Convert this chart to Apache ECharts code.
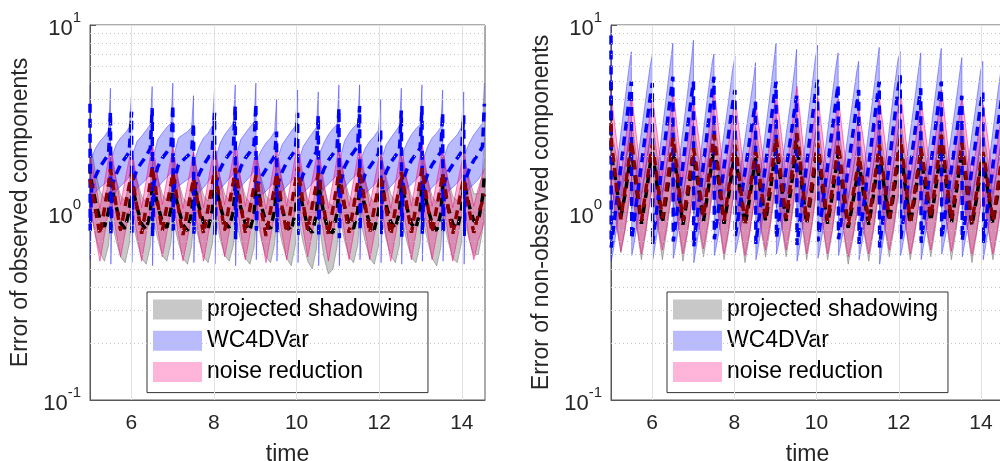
<!DOCTYPE html>
<html>
<head>
<meta charset="utf-8">
<style>
  html, body { margin: 0; padding: 0; background: #fff; }
  #chart { width: 1000px; height: 461px; }
</style>
<script src="https://cdn.jsdelivr.net/npm/echarts@6/dist/echarts.min.js"></script>
</head>
<body>
<div id="chart"></div>
<script>
// Sample times: initial point, then 7 samples per assimilation window
const time = [5.0,
  5.005,5.04,5.13,5.24,5.35,5.45,5.495,
  5.505,5.54,5.63,5.74,5.85,5.95,6.005,
  6.015,6.05,6.14,6.25,6.36,6.46,6.505,
  6.515,6.55,6.64,6.75,6.86,6.96,7.005,
  7.015,7.05,7.14,7.25,7.36,7.46,7.505,
  7.515,7.55,7.64,7.75,7.86,7.96,8.015,
  8.025,8.06,8.15,8.26,8.37,8.47,8.515,
  8.525,8.56,8.65,8.76,8.87,8.97,9.015,
  9.025,9.06,9.15,9.26,9.37,9.47,9.515,
  9.525,9.56,9.65,9.76,9.87,9.97,10.025,
  10.035,10.07,10.16,10.27,10.38,10.48,10.525,
  10.535,10.57,10.66,10.77,10.88,10.98,11.025,
  11.035,11.07,11.16,11.27,11.38,11.48,11.525,
  11.535,11.57,11.66,11.77,11.88,11.98,12.035,
  12.045,12.08,12.17,12.28,12.39,12.49,12.535,
  12.545,12.58,12.67,12.78,12.89,12.99,13.035,
  13.045,13.08,13.17,13.28,13.39,13.49,13.535,
  13.545,13.58,13.67,13.78,13.89,13.99,14.045,
  14.055,14.09,14.18,14.29,14.40,14.50,14.545];

// ---- Observed components ----
// projected shadowing: lower band, mean, upper band
const obsPsLo = [1.1,
  1.05,0.96,0.76,0.61,0.55,0.67,0.91, 0.96,0.87,0.71,0.58,0.54,0.68,0.92,
  0.94,0.86,0.7,0.57,0.53,0.66,0.9, 0.97,0.88,0.72,0.59,0.55,0.69,0.94,
  0.92,0.84,0.69,0.57,0.53,0.66,0.89, 0.95,0.86,0.71,0.58,0.54,0.68,0.92,
  0.98,0.88,0.72,0.59,0.55,0.67,0.91, 0.94,0.86,0.7,0.57,0.53,0.65,0.88,
  0.96,0.88,0.71,0.58,0.54,0.68,0.93, 0.93,0.85,0.69,0.57,0.52,0.67,0.9,
  0.96,0.86,0.69,0.55,0.5,0.64,0.88, 0.94,0.8,0.58,0.47,0.5,0.66,0.91,
  0.96,0.88,0.71,0.58,0.54,0.67,0.92, 0.94,0.86,0.7,0.57,0.53,0.66,0.9,
  0.97,0.88,0.72,0.59,0.54,0.67,0.9, 0.93,0.85,0.7,0.57,0.54,0.68,0.93,
  0.96,0.87,0.71,0.57,0.52,0.65,0.89, 0.94,0.86,0.7,0.57,0.54,0.69,0.94,
  0.96,0.88,0.71,0.59,0.6,0.8,1.05];
const obsPsMid = [1.8,
  1.6,1.45,1.15,0.92,0.84,1.02,1.38, 1.45,1.32,1.08,0.88,0.82,1.03,1.4,
  1.42,1.3,1.06,0.87,0.81,1.0,1.36, 1.47,1.34,1.09,0.89,0.83,1.04,1.42,
  1.4,1.28,1.05,0.86,0.8,1.0,1.35, 1.44,1.31,1.07,0.88,0.82,1.03,1.4,
  1.48,1.34,1.09,0.89,0.83,1.02,1.38, 1.43,1.3,1.06,0.87,0.8,0.99,1.34,
  1.46,1.33,1.08,0.88,0.82,1.03,1.41, 1.41,1.29,1.05,0.86,0.8,1.01,1.37,
  1.45,1.31,1.05,0.84,0.78,0.98,1.34, 1.42,1.26,0.98,0.8,0.78,1.0,1.38,
  1.46,1.33,1.08,0.88,0.82,1.02,1.39, 1.42,1.3,1.06,0.87,0.81,1.0,1.36,
  1.47,1.34,1.09,0.89,0.82,1.01,1.37, 1.41,1.29,1.06,0.87,0.82,1.03,1.41,
  1.45,1.32,1.07,0.87,0.8,0.99,1.35, 1.43,1.3,1.06,0.87,0.82,1.04,1.43,
  1.46,1.33,1.08,0.9,0.9,1.2,1.6];
const obsPsHi = [2.7,
  2.4,2.15,1.65,1.3,1.18,1.43,1.93, 2.03,1.85,1.51,1.23,1.15,1.44,1.96,
  1.99,1.82,1.48,1.22,1.13,1.4,1.9, 2.06,1.88,1.53,1.25,1.16,1.46,1.99,
  1.96,1.79,1.47,1.2,1.12,1.4,1.89, 2.02,1.83,1.5,1.23,1.15,1.44,1.96,
  2.07,1.88,1.53,1.25,1.16,1.43,1.93, 2.0,1.82,1.48,1.22,1.12,1.39,1.88,
  2.04,1.86,1.51,1.23,1.15,1.44,1.97, 1.97,1.81,1.47,1.2,1.12,1.41,1.92,
  2.03,1.83,1.47,1.18,1.09,1.37,1.88, 1.99,1.76,1.37,1.12,1.09,1.4,1.93,
  2.04,1.86,1.51,1.23,1.15,1.43,1.95, 1.99,1.82,1.48,1.22,1.13,1.4,1.9,
  2.06,1.88,1.53,1.25,1.15,1.41,1.92, 1.97,1.81,1.48,1.22,1.15,1.44,1.97,
  2.03,1.85,1.5,1.22,1.12,1.39,1.89, 2.0,1.82,1.48,1.22,1.15,1.46,2.0,
  2.04,1.86,1.51,1.26,1.26,1.6,1.95];
// WC4DVar
const obsWcLo = [2.5,
  0.56,1.1,1.28,1.36,1.42,1.5,2.3, 0.53,1.12,1.3,1.38,1.46,1.55,2.3,
  0.54,1.18,1.35,1.42,1.5,1.6,2.4, 0.52,1.15,1.36,1.45,1.54,1.63,2.5,
  0.56,1.2,1.38,1.44,1.5,1.55,2.1, 0.54,1.1,1.28,1.36,1.46,1.57,2.3,
  0.53,1.14,1.33,1.42,1.52,1.6,2.45, 0.52,1.18,1.37,1.46,1.55,1.66,2.5,
  0.56,1.08,1.24,1.3,1.38,1.47,1.9, 0.55,1.12,1.3,1.38,1.47,1.57,2.3,
  0.54,1.1,1.27,1.34,1.43,1.53,2.25, 0.52,1.18,1.34,1.42,1.5,1.6,2.4,
  0.52,1.14,1.36,1.45,1.54,1.63,2.45, 0.56,1.08,1.26,1.33,1.41,1.5,2.0,
  0.54,1.12,1.3,1.38,1.47,1.57,2.35, 0.53,1.18,1.34,1.42,1.5,1.6,2.45,
  0.55,1.1,1.28,1.36,1.44,1.54,2.3, 0.55,1.12,1.3,1.36,1.44,1.54,2.25,
  0.53,1.18,1.34,1.42,1.5,1.63,2.5];
const obsWcMid = [3.8,
  0.8,1.35,1.55,1.75,1.9,2.05,3.45, 0.76,1.4,1.6,1.8,1.95,2.1,3.45,
  0.78,1.5,1.7,1.85,2.0,2.2,3.6, 0.74,1.45,1.75,1.95,2.1,2.25,3.75,
  0.8,1.5,1.8,1.9,2.0,2.1,3.0, 0.77,1.4,1.6,1.8,1.95,2.15,3.4,
  0.75,1.45,1.7,1.9,2.05,2.2,3.7, 0.72,1.5,1.75,1.95,2.1,2.3,3.8,
  0.8,1.4,1.55,1.7,1.85,2.0,2.7, 0.78,1.45,1.65,1.85,2.0,2.15,3.4,
  0.76,1.4,1.6,1.75,1.95,2.1,3.3, 0.74,1.5,1.7,1.9,2.05,2.2,3.6,
  0.73,1.45,1.75,1.95,2.1,2.25,3.7, 0.8,1.4,1.6,1.75,1.9,2.05,2.8,
  0.76,1.45,1.65,1.85,2.0,2.15,3.5, 0.74,1.5,1.7,1.9,2.05,2.2,3.7,
  0.77,1.4,1.6,1.8,1.95,2.1,3.4, 0.78,1.45,1.65,1.8,1.95,2.1,3.3,
  0.75,1.5,1.7,1.9,2.05,2.25,3.8];
const obsWcHi = [4.8,
  1.25,1.95,2.2,2.4,2.55,2.75,4.6, 1.2,2.0,2.3,2.5,2.65,2.85,4.3,
  1.25,2.1,2.4,2.55,2.75,2.95,4.7, 1.2,2.05,2.45,2.65,2.85,3.0,4.9,
  1.3,2.1,2.5,2.6,2.7,2.85,4.2, 1.25,1.95,2.25,2.5,2.65,2.9,4.6,
  1.2,2.0,2.35,2.6,2.8,3.0,4.8, 1.2,2.1,2.45,2.65,2.85,3.05,4.9,
  1.3,1.95,2.15,2.35,2.5,2.7,4.0, 1.25,2.0,2.3,2.5,2.7,2.9,4.5,
  1.25,1.95,2.25,2.45,2.65,2.85,4.4, 1.2,2.1,2.35,2.6,2.8,2.95,4.8,
  1.2,2.0,2.4,2.65,2.85,3.0,4.8, 1.3,1.95,2.2,2.4,2.55,2.75,4.0,
  1.25,2.0,2.3,2.5,2.7,2.9,4.6, 1.2,2.1,2.35,2.6,2.8,2.95,4.8,
  1.25,1.95,2.25,2.5,2.65,2.85,4.5, 1.25,2.0,2.3,2.45,2.6,2.85,4.4,
  1.2,2.1,2.35,2.6,2.8,3.0,4.9];
// noise reduction
const obsNrLo = [1.0,
  1.08,0.98,0.75,0.55,0.76,1.02,1.22, 1.19,1.07,0.79,0.58,0.78,1.01,1.15,
  1.12,1.01,0.76,0.55,0.77,1.04,1.26, 1.22,1.08,0.81,0.58,0.78,1.02,1.17,
  1.14,1.02,0.76,0.55,0.73,0.96,1.09, 1.07,0.97,0.74,0.55,0.76,1.02,1.21,
  1.19,1.07,0.79,0.58,0.79,1.05,1.24, 1.21,1.08,0.78,0.56,0.76,0.99,1.14,
  1.09,0.99,0.74,0.54,0.74,0.99,1.17, 1.14,1.02,0.77,0.56,0.78,1.05,1.26,
  1.22,1.08,0.81,0.58,0.78,1.02,1.17, 1.12,1.01,0.76,0.55,0.76,1.02,1.21,
  1.17,1.04,0.78,0.56,0.77,1.04,1.24, 1.2,1.07,0.79,0.56,0.76,0.99,1.14,
  1.08,0.98,0.75,0.55,0.75,1.01,1.18, 1.15,1.04,0.78,0.56,0.78,1.05,1.24,
  1.2,1.07,0.79,0.56,0.76,1.01,1.17, 1.12,1.01,0.76,0.55,0.73,0.95,1.09,
  1.07,0.96,0.73,0.56,0.71,0.83,0.9];
const obsNrMid = [1.5,
  1.5,1.36,1.04,0.76,1.05,1.42,1.7, 1.65,1.48,1.1,0.8,1.08,1.4,1.6,
  1.55,1.4,1.06,0.77,1.07,1.45,1.75, 1.7,1.5,1.12,0.8,1.08,1.42,1.62,
  1.58,1.42,1.06,0.76,1.02,1.34,1.52, 1.48,1.35,1.03,0.77,1.06,1.42,1.68,
  1.65,1.48,1.1,0.8,1.1,1.46,1.72, 1.68,1.5,1.09,0.78,1.05,1.38,1.58,
  1.52,1.37,1.03,0.75,1.03,1.38,1.62, 1.58,1.42,1.07,0.78,1.08,1.46,1.75,
  1.7,1.5,1.12,0.8,1.09,1.42,1.62, 1.55,1.4,1.05,0.76,1.05,1.42,1.68,
  1.62,1.45,1.08,0.78,1.07,1.45,1.72, 1.66,1.48,1.1,0.78,1.05,1.38,1.58,
  1.5,1.36,1.04,0.76,1.04,1.4,1.64, 1.6,1.44,1.08,0.78,1.08,1.46,1.72,
  1.66,1.48,1.1,0.78,1.06,1.4,1.62, 1.55,1.4,1.05,0.77,1.02,1.32,1.52,
  1.48,1.34,1.02,0.78,0.98,1.15,1.25];
const obsNrHi = [2.3,
  2.07,1.88,1.44,1.05,1.45,1.96,2.35, 2.28,2.04,1.52,1.1,1.49,1.93,2.2,
  2.14,1.93,1.46,1.06,1.48,2.0,2.42, 2.35,2.07,1.55,1.1,1.49,1.96,2.24,
  2.18,1.96,1.46,1.05,1.41,1.85,2.1, 2.04,1.86,1.42,1.06,1.46,1.96,2.32,
  2.28,2.04,1.52,1.1,1.52,2.01,2.37, 2.32,2.07,1.5,1.08,1.45,1.9,2.18,
  2.1,1.89,1.42,1.04,1.42,1.9,2.24, 2.18,1.96,1.48,1.08,1.49,2.01,2.42,
  2.35,2.07,1.55,1.1,1.5,1.96,2.24, 2.14,1.93,1.45,1.05,1.45,1.96,2.32,
  2.24,2.0,1.49,1.08,1.48,2.0,2.37, 2.29,2.04,1.52,1.08,1.45,1.9,2.18,
  2.07,1.88,1.44,1.05,1.44,1.93,2.26, 2.21,1.99,1.49,1.08,1.49,2.01,2.37,
  2.29,2.04,1.52,1.08,1.46,1.93,2.24, 2.14,1.93,1.45,1.06,1.41,1.82,2.1,
  2.04,1.85,1.41,1.08,1.35,1.59,1.72];

// ---- Non-observed components ----
const unPsLo = [2.5,
  1.35,1.3,0.9,0.61,0.82,1.16,1.34, 1.34,1.18,0.83,0.56,0.79,1.14,1.34,
  1.31,1.16,0.83,0.56,0.81,1.18,1.41, 1.38,1.22,0.84,0.55,0.77,1.1,1.28,
  1.28,1.14,0.83,0.58,0.83,1.22,1.44, 1.41,1.24,0.85,0.56,0.78,1.13,1.31,
  1.28,1.14,0.81,0.54,0.76,1.08,1.25, 1.25,1.11,0.81,0.58,0.82,1.2,1.41,
  1.41,1.24,0.86,0.58,0.83,1.22,1.47, 1.47,1.28,0.86,0.56,0.79,1.15,1.34,
  1.31,1.16,0.82,0.56,0.78,1.13,1.31, 1.28,1.13,0.78,0.53,0.72,0.97,1.12,
  1.15,1.04,0.77,0.55,0.78,1.13,1.31, 1.28,1.14,0.83,0.58,0.81,1.18,1.41,
  1.38,1.22,0.84,0.56,0.77,1.1,1.28, 1.25,1.11,0.82,0.58,0.83,1.22,1.44,
  1.41,1.25,0.86,0.56,0.79,1.15,1.34, 1.31,1.16,0.81,0.54,0.76,1.08,1.25,
  1.22,1.09,0.8,0.56,0.78,1.13,1.31];
const unPsMid = [5.0,
  2.0,1.85,1.4,0.95,1.28,1.82,2.1, 2.1,1.85,1.3,0.87,1.24,1.78,2.1,
  2.05,1.82,1.3,0.88,1.27,1.85,2.2, 2.15,1.9,1.32,0.86,1.2,1.72,2.0,
  2.0,1.78,1.3,0.9,1.3,1.9,2.25, 2.2,1.93,1.33,0.87,1.22,1.76,2.05,
  2.0,1.78,1.26,0.85,1.18,1.68,1.95, 1.95,1.74,1.26,0.9,1.28,1.88,2.2,
  2.2,1.94,1.35,0.9,1.3,1.9,2.3, 2.3,2.0,1.35,0.87,1.24,1.8,2.1,
  2.05,1.82,1.28,0.87,1.22,1.76,2.05, 2.0,1.76,1.22,0.83,1.12,1.52,1.75,
  1.8,1.62,1.2,0.86,1.22,1.76,2.05, 2.0,1.78,1.3,0.9,1.27,1.85,2.2,
  2.15,1.9,1.32,0.87,1.2,1.72,2.0, 1.95,1.74,1.28,0.9,1.3,1.9,2.25,
  2.2,1.95,1.34,0.88,1.24,1.8,2.1, 2.05,1.82,1.26,0.85,1.18,1.68,1.95,
  1.9,1.7,1.25,0.87,1.22,1.76,2.05];
const unPsHi = [7.0,
  2.6,2.55,2.0,1.38,1.86,2.64,3.05, 3.05,2.68,1.89,1.26,1.8,2.58,3.05,
  2.97,2.64,1.89,1.28,1.84,2.68,3.19, 3.12,2.76,1.91,1.25,1.74,2.49,2.9,
  2.9,2.58,1.89,1.3,1.89,2.76,3.26, 3.19,2.8,1.93,1.26,1.77,2.55,2.97,
  2.9,2.58,1.83,1.23,1.71,2.44,2.83, 2.83,2.52,1.83,1.3,1.86,2.73,3.19,
  3.19,2.81,1.96,1.3,1.89,2.76,3.34, 3.34,2.9,1.96,1.26,1.8,2.61,3.05,
  2.97,2.64,1.86,1.26,1.77,2.55,2.97, 2.9,2.55,1.77,1.2,1.62,2.2,2.54,
  2.61,2.35,1.74,1.25,1.77,2.55,2.97, 2.9,2.58,1.89,1.3,1.84,2.68,3.19,
  3.12,2.76,1.91,1.26,1.74,2.49,2.9, 2.83,2.52,1.86,1.3,1.89,2.76,3.26,
  3.19,2.83,1.94,1.28,1.8,2.61,3.05, 2.97,2.64,1.83,1.23,1.71,2.44,2.83,
  2.76,2.47,1.81,1.26,1.77,2.55,2.97];
const unWcLo = [5.5,
  0.55,0.6,0.8,1.18,1.72,2.5,3.0, 0.59,0.64,0.84,1.2,1.72,2.42,2.95,
  0.56,0.62,0.82,1.22,1.8,2.65,3.2, 0.57,0.62,0.82,1.2,1.75,2.5,3.0,
  0.54,0.6,0.81,1.21,1.8,2.65,3.2, 0.59,0.64,0.82,1.17,1.63,2.28,2.7,
  0.61,0.66,0.82,1.1,1.5,2.0,2.35, 0.56,0.61,0.81,1.2,1.75,2.5,3.0,
  0.6,0.65,0.82,1.14,1.57,2.15,2.5, 0.55,0.6,0.8,1.21,1.78,2.57,3.05,
  0.57,0.62,0.82,1.19,1.72,2.42,2.9, 0.59,0.64,0.82,1.17,1.63,2.28,2.7,
  0.56,0.62,0.82,1.2,1.75,2.5,3.0, 0.53,0.6,0.8,1.23,1.84,2.7,3.25,
  0.59,0.64,0.83,1.18,1.66,2.34,2.75, 0.56,0.62,0.82,1.2,1.75,2.5,3.0,
  0.6,0.65,0.82,1.14,1.57,2.15,2.5, 0.58,0.64,0.82,1.15,1.6,2.25,2.65,
  0.56,0.62,0.82,1.19,1.72,2.42,2.9];
const unWcMid = [8.8,
  0.65,0.76,1.1,1.75,2.75,4.15,5.0, 0.72,0.82,1.18,1.8,2.75,4.05,4.9,
  0.68,0.8,1.15,1.85,2.9,4.4,5.3, 0.7,0.8,1.15,1.8,2.8,4.2,5.0,
  0.66,0.78,1.14,1.82,2.9,4.45,5.3, 0.72,0.82,1.15,1.75,2.6,3.8,4.5,
  0.75,0.84,1.14,1.65,2.4,3.35,3.9, 0.68,0.79,1.14,1.8,2.8,4.2,5.0,
  0.73,0.83,1.15,1.7,2.5,3.6,4.2, 0.67,0.78,1.13,1.82,2.85,4.3,5.1,
  0.7,0.8,1.15,1.78,2.75,4.05,4.8, 0.72,0.82,1.15,1.75,2.6,3.8,4.5,
  0.68,0.8,1.15,1.8,2.8,4.2,5.0, 0.65,0.77,1.12,1.85,2.95,4.5,5.4,
  0.72,0.82,1.16,1.76,2.65,3.9,4.6, 0.69,0.8,1.15,1.8,2.8,4.2,5.0,
  0.73,0.83,1.15,1.7,2.5,3.6,4.2, 0.71,0.82,1.15,1.72,2.55,3.75,4.4,
  0.69,0.8,1.15,1.78,2.75,4.05,4.8];
const unWcHi = [9.8,
  0.95,1.15,1.68,2.65,4.15,6.2,7.2, 1.05,1.22,1.78,2.7,4.1,6.0,6.9,
  1.0,1.2,1.75,2.8,4.4,6.7,8.0, 1.02,1.22,1.76,2.75,4.3,6.6,8.3,
  0.98,1.18,1.72,2.75,4.35,6.3,7.0, 1.05,1.24,1.75,2.65,3.95,5.8,6.8,
  1.08,1.27,1.72,2.5,3.65,5.2,6.3, 1.0,1.2,1.74,2.75,4.3,6.6,8.0,
  1.06,1.25,1.76,2.6,3.9,5.9,7.4, 0.98,1.18,1.72,2.78,4.35,6.6,7.8,
  1.02,1.21,1.75,2.72,4.2,6.2,7.1, 1.05,1.24,1.75,2.65,3.95,5.7,6.4,
  1.0,1.2,1.74,2.75,4.3,6.4,7.6, 0.95,1.16,1.7,2.8,4.45,6.5,7.2,
  1.05,1.24,1.76,2.68,4.05,6.0,7.1, 1.01,1.21,1.75,2.75,4.25,6.4,7.5,
  1.06,1.25,1.75,2.6,3.85,5.7,6.7, 1.04,1.24,1.75,2.62,3.9,5.7,6.4,
  1.0,1.2,1.75,2.7,4.2,6.1,7.0];
const unNrLo = [1.6,
  1.45,1.27,0.86,0.62,0.84,1.22,1.45, 1.45,1.25,0.84,0.6,0.81,1.17,1.4,
  1.4,1.22,0.85,0.63,0.85,1.25,1.5, 1.5,1.31,0.86,0.6,0.79,1.13,1.34,
  1.37,1.2,0.85,0.64,0.88,1.31,1.58, 1.58,1.34,0.88,0.6,0.81,1.17,1.4,
  1.4,1.22,0.83,0.59,0.78,1.1,1.28, 1.31,1.16,0.82,0.63,0.87,1.28,1.52,
  1.52,1.31,0.88,0.63,0.87,1.31,1.6, 1.63,1.4,0.89,0.6,0.82,1.21,1.43,
  1.43,1.24,0.84,0.6,0.81,1.17,1.4, 1.4,1.21,0.8,0.58,0.74,1.0,1.16,
  1.22,1.08,0.79,0.6,0.81,1.17,1.4, 1.4,1.22,0.85,0.63,0.85,1.25,1.52,
  1.52,1.31,0.86,0.6,0.79,1.13,1.34, 1.37,1.2,0.85,0.63,0.88,1.31,1.58,
  1.58,1.35,0.88,0.62,0.83,1.21,1.43, 1.43,1.23,0.83,0.59,0.78,1.1,1.28,
  1.31,1.16,0.82,0.6,0.81,1.17,1.4];
const unNrMid = [3.0,
  2.4,2.08,1.42,0.92,1.38,2.0,2.4, 2.4,2.05,1.38,0.9,1.33,1.92,2.3,
  2.3,2.0,1.4,0.93,1.4,2.05,2.5, 2.5,2.15,1.42,0.9,1.3,1.85,2.2,
  2.25,1.97,1.4,0.95,1.45,2.15,2.6, 2.6,2.2,1.44,0.9,1.33,1.92,2.3,
  2.3,2.0,1.36,0.88,1.28,1.8,2.1, 2.15,1.9,1.35,0.94,1.42,2.1,2.5,
  2.5,2.15,1.45,0.93,1.43,2.15,2.65, 2.7,2.3,1.46,0.9,1.35,1.98,2.35,
  2.35,2.03,1.38,0.9,1.33,1.92,2.3, 2.3,1.98,1.32,0.86,1.22,1.65,1.9,
  2.0,1.78,1.3,0.9,1.33,1.92,2.3, 2.3,2.0,1.4,0.93,1.4,2.05,2.5,
  2.5,2.15,1.42,0.9,1.3,1.85,2.2, 2.25,1.97,1.4,0.94,1.44,2.15,2.6,
  2.6,2.22,1.45,0.92,1.36,1.98,2.35, 2.35,2.02,1.36,0.88,1.28,1.8,2.1,
  2.15,1.9,1.35,0.9,1.33,1.92,2.3];
const unNrHi = [4.5,
  4.2,3.64,2.48,1.55,2.41,3.5,4.2, 4.2,3.59,2.42,1.52,2.33,3.36,4.0,
  4.0,3.5,2.45,1.57,2.45,3.59,4.4, 4.4,3.76,2.48,1.52,2.28,3.24,3.8,
  3.9,3.45,2.45,1.6,2.54,3.76,4.5, 4.5,3.85,2.52,1.52,2.33,3.36,4.0,
  4.0,3.5,2.38,1.5,2.24,3.15,3.6, 3.75,3.33,2.36,1.58,2.49,3.68,4.4,
  4.4,3.76,2.54,1.57,2.5,3.76,4.6, 4.7,4.0,2.56,1.52,2.36,3.47,4.1,
  4.1,3.55,2.42,1.52,2.33,3.36,4.0, 4.0,3.47,2.31,1.46,2.14,2.89,3.3,
  3.5,3.12,2.28,1.52,2.33,3.36,4.0, 4.0,3.5,2.45,1.57,2.45,3.59,4.4,
  4.4,3.76,2.48,1.52,2.28,3.24,3.8, 3.9,3.45,2.45,1.58,2.52,3.76,4.5,
  4.5,3.88,2.54,1.55,2.38,3.47,4.1, 4.1,3.54,2.38,1.5,2.24,3.15,3.6,
  3.75,3.33,2.36,1.52,2.33,3.36,4.0];

// ---- Axes, labels, legend ----
const methodNames = ['projected shadowing', 'WC4DVar', 'noise reduction'];
const yAxisTitles = ['Error of observed components', 'Error of non-observed components'];
const xTickValues = [6, 8, 10, 12, 14];
const yMinorValues = [0.2, 0.3, 0.4, 0.5, 0.6, 0.7, 0.8, 0.9, 2, 3, 4, 5, 6, 7, 8, 9];

const FONT = '"Liberation Sans", Arial, Helvetica, sans-serif';
const AXIS_COLOR = '#585858';
const bandFill = ['rgba(110,110,110,0.38)', 'rgba(0,0,255,0.27)', 'rgba(255,0,128,0.29)'];
const bandEdge = ['rgba(110,110,110,0.5)', 'rgba(40,40,255,0.45)', 'rgba(255,0,128,0.5)'];
const meanColor = ['#000000', '#0000ff', '#8b0000'];

const panels = [
  [[obsPsLo, obsPsMid, obsPsHi], [obsWcLo, obsWcMid, obsWcHi], [obsNrLo, obsNrMid, obsNrHi]],
  [[unPsLo, unPsMid, unPsHi], [unWcLo, unWcMid, unWcHi], [unNrLo, unNrMid, unNrHi]]
];

// Shaded band drawn as one polygon between the lower and upper curves
function bandSeries(panel, m, lo, hi) {
  const rows = time.map((t, i) => [t, lo[i], hi[i]]);
  return {
    type: 'custom', name: methodNames[m],
    xAxisIndex: panel, yAxisIndex: panel,
    data: rows, silent: true, animation: false,
    encode: { x: 0, y: [1, 2] },
    itemStyle: { color: bandFill[m] },
    renderItem(params, api) {
      if (params.dataIndex !== 0) return null;
      const top = rows.map(r => api.coord([r[0], r[2]]));
      const bottom = rows.map(r => api.coord([r[0], r[1]]));
      return {
        type: 'group',
        children: [
          { type: 'polygon', shape: { points: top.concat(bottom.slice().reverse()) },
            style: { fill: bandFill[m], stroke: null } },
          { type: 'polyline', shape: { points: top }, style: { fill: null, stroke: bandEdge[m], lineWidth: 1 } },
          { type: 'polyline', shape: { points: bottom }, style: { fill: null, stroke: bandEdge[m], lineWidth: 1 } }
        ]
      };
    }
  };
}

function meanSeries(panel, m, mid) {
  return {
    type: 'line', name: methodNames[m] + ' mean',
    xAxisIndex: panel, yAxisIndex: panel,
    data: time.map((t, i) => [t, mid[i]]),
    showSymbol: false, silent: true, animation: false,
    lineStyle: { color: meanColor[m], width: 3.5, type: [9, 6] }
  };
}

// Background grid: solid x lines at the labelled ticks, dotted minor y lines
function gridLineSeries(panel) {
  return {
    type: 'line', xAxisIndex: panel, yAxisIndex: panel, data: [], z: 1, silent: true,
    markLine: {
      silent: true, symbol: 'none', animation: false, label: { show: false },
      data: xTickValues.map(v => ({ xAxis: v, lineStyle: { type: 'solid', color: '#e2e2e2', width: 1 } }))
        .concat(yMinorValues.map(v => ({ yAxis: v, lineStyle: { type: [1, 3], color: '#c4c4c4', width: 1 } })))
    }
  };
}

const gridBoxes = [
  { left: 90, top: 25, width: 395, height: 375 },
  { left: 611, top: 25, width: 393, height: 375 }
];

const series = [];
panels.forEach((methods, p) => {
  series.push(gridLineSeries(p));
  methods.forEach(([lo, mid, hi], m) => {
    series.push(bandSeries(p, m, lo, hi));
    series.push(meanSeries(p, m, mid));
  });
});

const option = {
  animation: false,
  backgroundColor: '#ffffff',
  textStyle: { fontFamily: FONT },
  grid: gridBoxes.map(g => Object.assign({
    show: true, borderColor: AXIS_COLOR, borderWidth: 1, backgroundColor: 'transparent',
    containLabel: false, outerBoundsMode: 'none'
  }, g)),
  xAxis: gridBoxes.map((g, i) => ({
    type: 'value', gridIndex: i, min: 5, max: 14.56,
    name: 'time', nameLocation: 'middle', nameGap: 43,
    nameTextStyle: { fontSize: 23, color: '#262626', fontFamily: FONT },
    axisLine: { lineStyle: { color: AXIS_COLOR } },
    axisTick: { inside: true, length: 6, customValues: xTickValues, lineStyle: { color: AXIS_COLOR } },
    axisLabel: { customValues: xTickValues, fontSize: 21, color: '#262626', margin: 13, fontFamily: FONT },
    splitLine: { show: false }
  })),
  yAxis: gridBoxes.map((g, i) => ({
    type: 'log', logBase: 10, gridIndex: i, min: 0.1, max: 10,
    name: yAxisTitles[i], nameLocation: 'middle', nameGap: 58,
    nameTextStyle: { fontSize: 23, color: '#262626', fontFamily: FONT },
    axisLine: { show: true, lineStyle: { color: AXIS_COLOR } },
    axisTick: { inside: true, length: 6, lineStyle: { color: AXIS_COLOR } },
    splitLine: { show: true, lineStyle: { color: '#e2e2e2' } },
    axisLabel: {
      margin: 9,
      formatter: v => '{b|10}{s|' + Math.round(Math.log10(v)) + '}',
      rich: {
        b: { fontSize: 22, lineHeight: 30, verticalAlign: 'bottom', color: '#262626', fontFamily: FONT },
        s: { fontSize: 15, lineHeight: 30, verticalAlign: 'top', color: '#262626', fontFamily: FONT }
      }
    }
  })),
  legend: [147, 667].map(x => ({
    left: x, top: 292, orient: 'vertical',
    data: methodNames.map((n, j) => ({ name: n, icon: 'rect', itemStyle: { color: bandFill[j], borderWidth: 0 } })),
    itemWidth: 49, itemHeight: 20, itemGap: 8.3,
    textStyle: { fontSize: 23, color: '#000', fontFamily: FONT, lineHeight: 20 },
    padding: [6, 10, 9, 6],
    borderColor: '#333', borderWidth: 1, backgroundColor: '#fff',
    selectedMode: false
  })),
  series
};

const chart = echarts.init(document.getElementById('chart'), null, { renderer: 'canvas' });
chart.setOption(option);
</script>
</body>
</html>
